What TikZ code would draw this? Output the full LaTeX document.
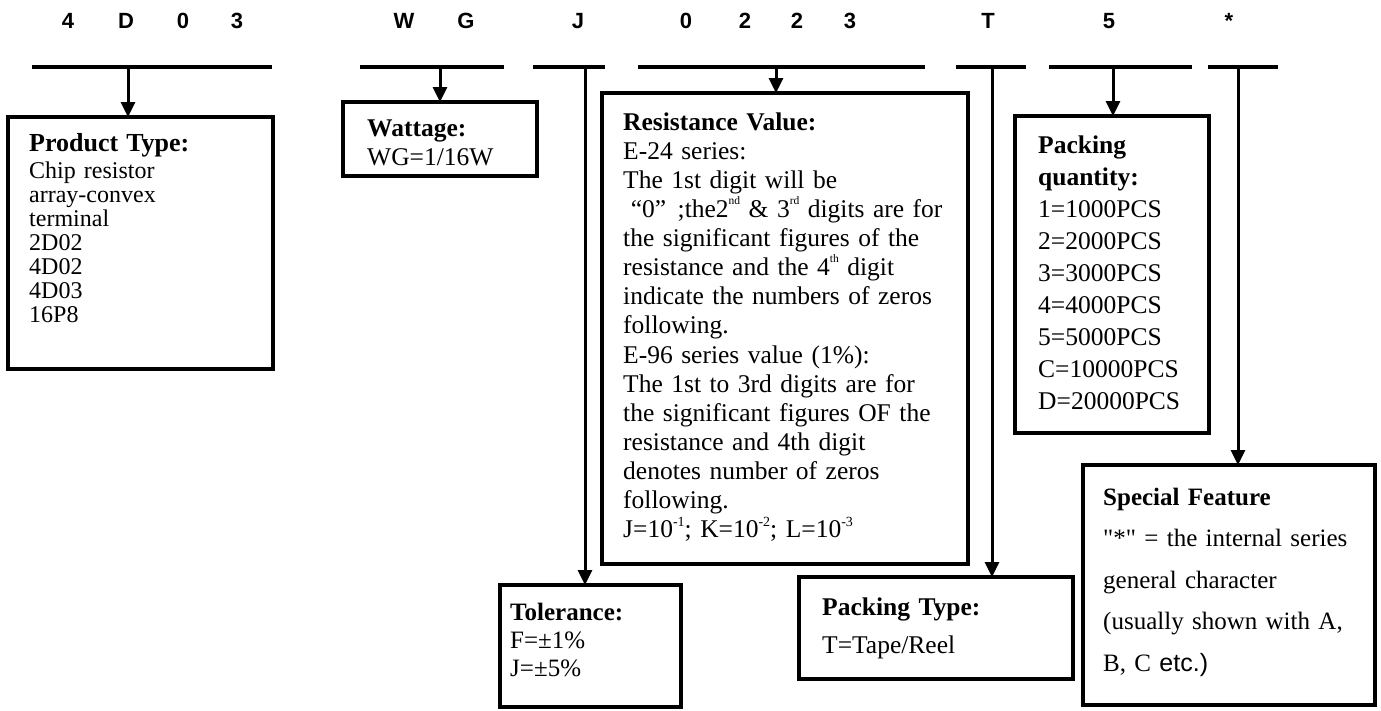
\documentclass[tikz,border=0pt]{standalone}
\usepackage{fontspec}
\setmainfont{Liberation Serif}
\newfontfamily\labfont{Liberation Sans}
\newfontfamily\etcfont{Liberation Sans}
\newfontfamily\qfont{Liberation Serif}
\usetikzlibrary{arrows.meta,calc}
\newcommand{\mysup}[1]{\raisebox{0.5em}{\fontsize{11.5}{11.5}\selectfont #1}}
\newcommand{\myexp}[1]{\raisebox{0.45em}{\fontsize{14}{14}\selectfont #1}}
\begin{document}
\begin{tikzpicture}[x=1pt,y=-1pt,
  box/.style={draw,line width=3.5pt,inner sep=0pt,outer sep=0pt,anchor=north west},
  bar/.style={line width=3.5pt},
  conn/.style={line width=3pt,-{Triangle[width=14pt,length=15pt]}},
  lab/.style={font=\labfont\bfseries\fontsize{22}{22}\selectfont,anchor=center,inner sep=0pt},
  txt/.style={anchor=base west,inner sep=0pt,align=left,text width=#1},
]
\useasboundingbox (0,0) rectangle (1381,710);

% top labels
\node[lab] (l1) at (68,21) {4};
\node[lab] (l2) at (126,21) {D};
\node[lab] (l3) at (183,21) {0};
\node[lab] (l4) at (237,21) {3};
\node[lab] (l5) at (404,21) {W};
\node[lab] (l6) at (466,21) {G};
\node[lab] (l7) at (578,21) {J};
\node[lab] (l8) at (686,21) {0};
\node[lab] (l9) at (745,21) {2};
\node[lab] (l10) at (797,21) {2};
\node[lab] (l11) at (850,21) {3};
\node[lab] (l12) at (988,21) {T};
\node[lab] (l13) at (1109,21) {5};
\node[lab] (l14) at (1229,21) {*};

% bars
\coordinate (b1l) at (32,67);   \coordinate (b1r) at (272,67);
\coordinate (b2l) at (360,67);  \coordinate (b2r) at (504,67);
\coordinate (b3l) at (533,67);  \coordinate (b3r) at (605,67);
\coordinate (b4l) at (638,67);  \coordinate (b4r) at (925,67);
\coordinate (b5l) at (956,67);  \coordinate (b5r) at (1026,67);
\coordinate (b6l) at (1049,67); \coordinate (b6r) at (1192,67);
\coordinate (b7l) at (1208,67); \coordinate (b7r) at (1278,67);
\foreach \i in {1,...,7} {\draw[bar] (b\i l) -- (b\i r);}

% boxes
\node[box,minimum width=265pt,minimum height=252pt] (prod) at (8,117) {};
\node[box,minimum width=194pt,minimum height=74pt] (watt) at (343,102) {};
\node[box,minimum width=181pt,minimum height=122pt] (tol) at (500,585) {};
\node[box,minimum width=366pt,minimum height=471pt] (res) at (602,93) {};
\node[box,minimum width=274pt,minimum height=102pt] (ptype) at (799,577) {};
\node[box,minimum width=194pt,minimum height=317pt] (pqty) at (1015,116) {};
\node[box,minimum width=292pt,minimum height=240pt] (spec) at (1083,465) {};

% connectors
\coordinate (a1) at (128,67);
\coordinate (a2) at (440,67);
\coordinate (a3) at (585,67);
\coordinate (a4) at (776,67);
\coordinate (a5) at (992,67);
\coordinate (a6) at (1113,67);
\coordinate (a7) at (1238,67);
\draw[conn] (a1) -- (a1 |- prod.north);
\draw[conn] (a2) -- (a2 |- watt.north);
\draw[conn] (a3) -- (a3 |- tol.north);
\draw[conn] (a4) -- (a4 |- res.north);
\draw[conn] (a5) -- (a5 |- ptype.north);
\draw[conn] (a6) -- (a6 |- pqty.north);
\draw[conn] (a7) -- (a7 |- spec.north);

% texts
\node[txt=240pt,font=\fontsize{24}{24}\selectfont] (prodt) at (29,151)
  {{\fontsize{26}{26}\selectfont\textbf{Product Type:}}\\[3pt]Chip resistor\\array-convex\\terminal\\2D02\\4D02\\4D03\\16P8};
\node[txt=165pt,font=\fontsize{25.5}{29}\selectfont] (wattt) at (367,136)
  {\textbf{Wattage:}\\WG=1/16W};
\node[txt=165pt,font=\fontsize{25}{28}\selectfont] (tolt) at (510,620)
  {\textbf{Tolerance:}\\F=±1\%\\J=±5\%};
\node[txt=345pt,font=\fontsize{25.5}{29.14}\selectfont] (rest) at (623,130)
  {\textbf{Resistance Value:}\\
   E-24 series:\\
   The 1st digit will be\\
   \hspace*{0.3em}“0”\hspace{0.45em};the2\mysup{nd} \& 3\mysup{rd} digits are for\\
   the significant figures of the\\
   resistance and the 4\mysup{th} digit\\
   indicate the numbers of zeros\\
   following.\\
   E-96 series value (1\%):\\
   The 1st to 3rd digits are for\\
   the significant figures OF the\\
   resistance and 4th digit\\
   denotes number of zeros\\
   following.\\
   J=10\myexp{-1}; K=10\myexp{-2}; L=10\myexp{-3}};
\node[txt=240pt,font=\fontsize{25.5}{38}\selectfont] (ptypet) at (822,615)
  {\textbf{Packing Type:}\\T=Tape/Reel};
\node[txt=170pt,font=\fontsize{25.5}{32.1}\selectfont] (pqtyt) at (1038,153)
  {\textbf{Packing}\\\textbf{quantity:}\\1=1000PCS\\2=2000PCS\\3=3000PCS\\4=4000PCS\\5=5000PCS\\C=10000PCS\\D=20000PCS};
\node[txt=268pt,font=\fontsize{25}{41.5}\selectfont] (spect) at (1103,505)
  {\textbf{Special Feature}\\{\qfont"*"} = the internal series\\general character\\(usually shown with A,\\B, C {\etcfont etc.)}};
\end{tikzpicture}
\end{document}
